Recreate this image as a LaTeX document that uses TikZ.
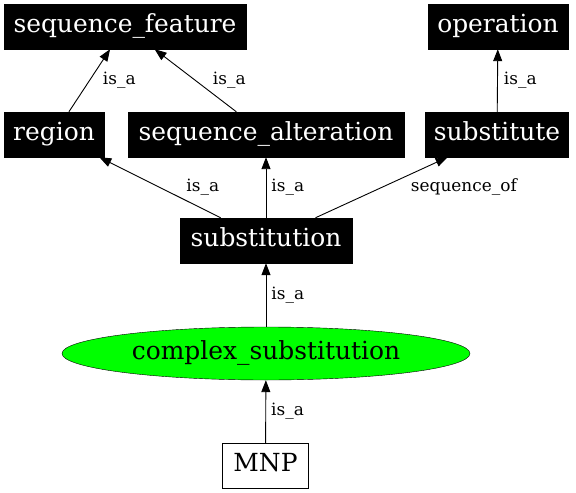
\documentclass[tikz,border=0pt]{standalone}
\usepackage{fontspec}
\setmainfont{DejaVu Serif}
\usetikzlibrary{arrows.meta,shapes.geometric}
\tikzset{
  term/.style={draw=black, fill=black, text=white, minimum height=45bp, inner sep=0pt,
    text height=12bp, text depth=0bp, font=\fontsize{25}{28}\selectfont},
  leaf/.style={draw=black, fill=white, minimum height=45bp, inner sep=0pt,
    text height=12bp, text depth=0bp, font=\fontsize{25}{28}\selectfont},
  root/.style={ellipse, draw=black, fill=green, minimum width=408bp, minimum height=53bp,
    inner sep=0pt, text height=12bp, text depth=0bp, font=\fontsize{25}{28}\selectfont},
  rel/.style={-{Triangle[length=12bp,width=9bp]}, line width=0.9bp},
  lbl/.style={font=\fontsize{17}{19}\selectfont, inner sep=0pt}
}
\begin{document}
\begin{tikzpicture}[x=1bp,y=-1bp]
  \useasboundingbox (0,0) rectangle (576,493);
  % top row
  \node[term, minimum width=242bp] (seqfeat) at (125,26.5) {sequence\_feature};
  \node[term, minimum width=140bp] (operation) at (498,26.5) {operation};
  % middle row
  \node[term, minimum width=100bp] (region) at (54,134.5) {region};
  \node[term, minimum width=276bp] (seqalt) at (266,134.5) {sequence\_alteration};
  \node[term, minimum width=143bp] (substitute) at (497,134.5) {substitute};
  % lower part
  \node[term, minimum width=172bp] (substitution) at (266,240.5) {substitution};
  \node[root] (complex) at (266,353.5) {complex\_substitution};
  \node[leaf, minimum width=86bp] (mnp) at (265.5,465.5) {MNP};
  % relations
  \draw[rel] (region) -- node[lbl, right=13bp] {is\_a} (seqfeat);
  \draw[rel] (seqalt) -- node[lbl, right=17bp] {is\_a} (seqfeat);
  \draw[rel] (substitute) -- node[lbl, right=6bp] {is\_a} (operation);
  \draw[rel] (substitution) -- node[lbl, right=26bp] {is\_a} (region);
  \draw[rel] (substitution) -- node[lbl, right=5bp] {is\_a} (seqalt);
  \draw[rel] (substitution) -- node[lbl, right=29bp] {sequence\_of} (substitute);
  \draw[rel] (complex) -- node[lbl, right=5bp] {is\_a} (substitution);
  \draw[rel] (mnp) -- node[lbl, right=5bp] {is\_a} (complex);
\end{tikzpicture}
\end{document}
